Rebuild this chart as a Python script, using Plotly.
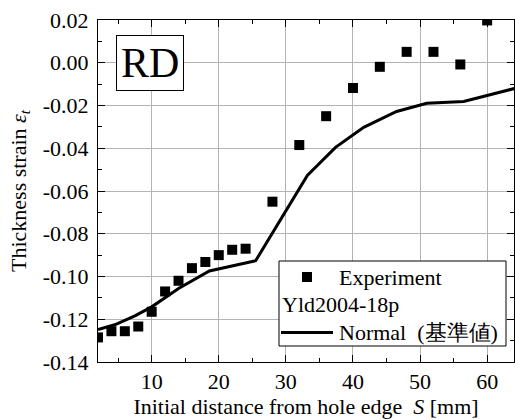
import plotly.graph_objects as go

# Measured thickness strain along the path from the hole edge
exp_s = [2, 4, 6, 8, 10, 12, 14, 16, 18, 20, 22, 24, 28, 32, 36, 40, 44, 48, 52, 56, 60]
exp_eps = [-0.1285, -0.1256, -0.1256, -0.1234, -0.1165, -0.1070, -0.1020, -0.0961, -0.0932,
           -0.0900, -0.0875, -0.0870, -0.0650, -0.0385, -0.0250, -0.0118, -0.0019, 0.0051,
           0.0051, -0.0008, 0.0198]

# Yld2004-18p simulation, "Normal" (reference) condition
sim_s = [2, 4.5, 7.5, 10, 14, 18.6, 25.5, 33.2, 37.4, 41.6, 46.5, 51.0, 56.5, 64.5]
sim_eps = [-0.1248, -0.1226, -0.1184, -0.1142, -0.1056, -0.0974, -0.0926, -0.0527, -0.0396,
           -0.0302, -0.0228, -0.0190, -0.0181, -0.0117]

x_ticks = [10, 20, 30, 40, 50, 60]
y_ticks = [-0.14, -0.12, -0.10, -0.08, -0.06, -0.04, -0.02, 0.00, 0.02]
y_ticktext = [f"{v:.2f}" for v in y_ticks]

exp_label = "Experiment"
model_label = "Yld2004-18p"
sim_label = "Normal\u00a0\u00a0(基準値)"

SERIF = "Liberation Serif"
FS = 22
NBSP = "\u00a0"

# Figure / plot-area geometry in pixels
FIG_W, FIG_H = 515, 420
M_L, M_R, M_T, M_B = 98, 1, 20, 58
PLOT_W = FIG_W - M_L - M_R
PLOT_H = FIG_H - M_T - M_B


def px(xp):
    """Pixel column -> paper x."""
    return (xp - M_L) / PLOT_W


def py(yp):
    """Pixel row (from top) -> paper y."""
    return (FIG_H - M_B - yp) / PLOT_H


fig = go.Figure()
fig.add_trace(go.Scatter(
    x=exp_s, y=exp_eps, mode="markers", name=exp_label,
    marker=dict(symbol="square", size=10, color="black"),
))
fig.add_trace(go.Scatter(
    x=sim_s, y=sim_eps, mode="lines", name=sim_label,
    line=dict(color="black", width=3),
))

axis_common = dict(
    showline=True, linecolor="black", linewidth=1, mirror="allticks",
    ticks="inside", ticklen=7, tickwidth=1, tickcolor="black",
    showgrid=True, gridcolor="#b3b3b3", gridwidth=1,
    zeroline=False,
    tickfont=dict(family=SERIF, size=FS, color="black"),
)

fig.update_xaxes(
    range=[2, 64], tickvals=x_ticks,
    minor=dict(dtick=5, tick0=0, ticks="inside", ticklen=4, tickcolor="black", showgrid=False),
    title=dict(text="Initial distance from hole edge" + NBSP * 2 + "<i>S</i> [mm]" + NBSP * 2,
               font=dict(family=SERIF, size=FS, color="black"), standoff=4),
    **axis_common,
)
fig.update_yaxes(
    range=[-0.14, 0.02], tickvals=y_ticks, ticktext=y_ticktext,
    minor=dict(dtick=0.01, tick0=0, ticks="inside", ticklen=4, tickcolor="black", showgrid=False),
    title=dict(text="Thickness strain <i>ε</i><sub><i>t</i></sub>",
               font=dict(family=SERIF, size=FS, color="black"), standoff=10),
    ticklabelstandoff=4,
    **axis_common,
)

# "RD" direction label
fig.add_annotation(
    text="RD", xref="paper", yref="paper", x=px(149.5), y=py(63),
    xanchor="center", yanchor="middle", showarrow=False,
    font=dict(family=SERIF, size=42, color="black"),
    bgcolor="white", bordercolor="black", borderwidth=1, borderpad=4,
)

# Legend box with its keys
shapes = [
    dict(type="rect", xref="paper", yref="paper", layer="above",
         x0=px(279), x1=px(506), y0=py(346), y1=py(261),
         fillcolor="white", line=dict(color="black", width=1)),
    dict(type="rect", xref="paper", yref="paper", layer="above",
         x0=px(302), x1=px(312), y0=py(282), y1=py(272),
         fillcolor="black", line=dict(width=0)),
    dict(type="line", xref="paper", yref="paper", layer="above",
         x0=px(281), x1=px(333), y0=py(332.5), y1=py(332.5),
         line=dict(color="black", width=3)),
]
fig.update_layout(shapes=shapes)

for text, xp, yp in [(exp_label, 338, 277), (model_label, 281, 304.5), (sim_label, 338, 332)]:
    fig.add_annotation(
        text=text, xref="paper", yref="paper", x=px(xp), y=py(yp),
        xanchor="left", yanchor="middle", showarrow=False, borderpad=0,
        font=dict(family=SERIF, size=FS, color="black"),
    )

fig.update_layout(
    width=FIG_W, height=FIG_H,
    margin=dict(l=M_L, r=M_R, t=M_T, b=M_B, autoexpand=False),
    paper_bgcolor="white", plot_bgcolor="white",
    font=dict(family=SERIF, size=FS, color="black"),
    showlegend=False,
)

fig.write_html("out.html")
